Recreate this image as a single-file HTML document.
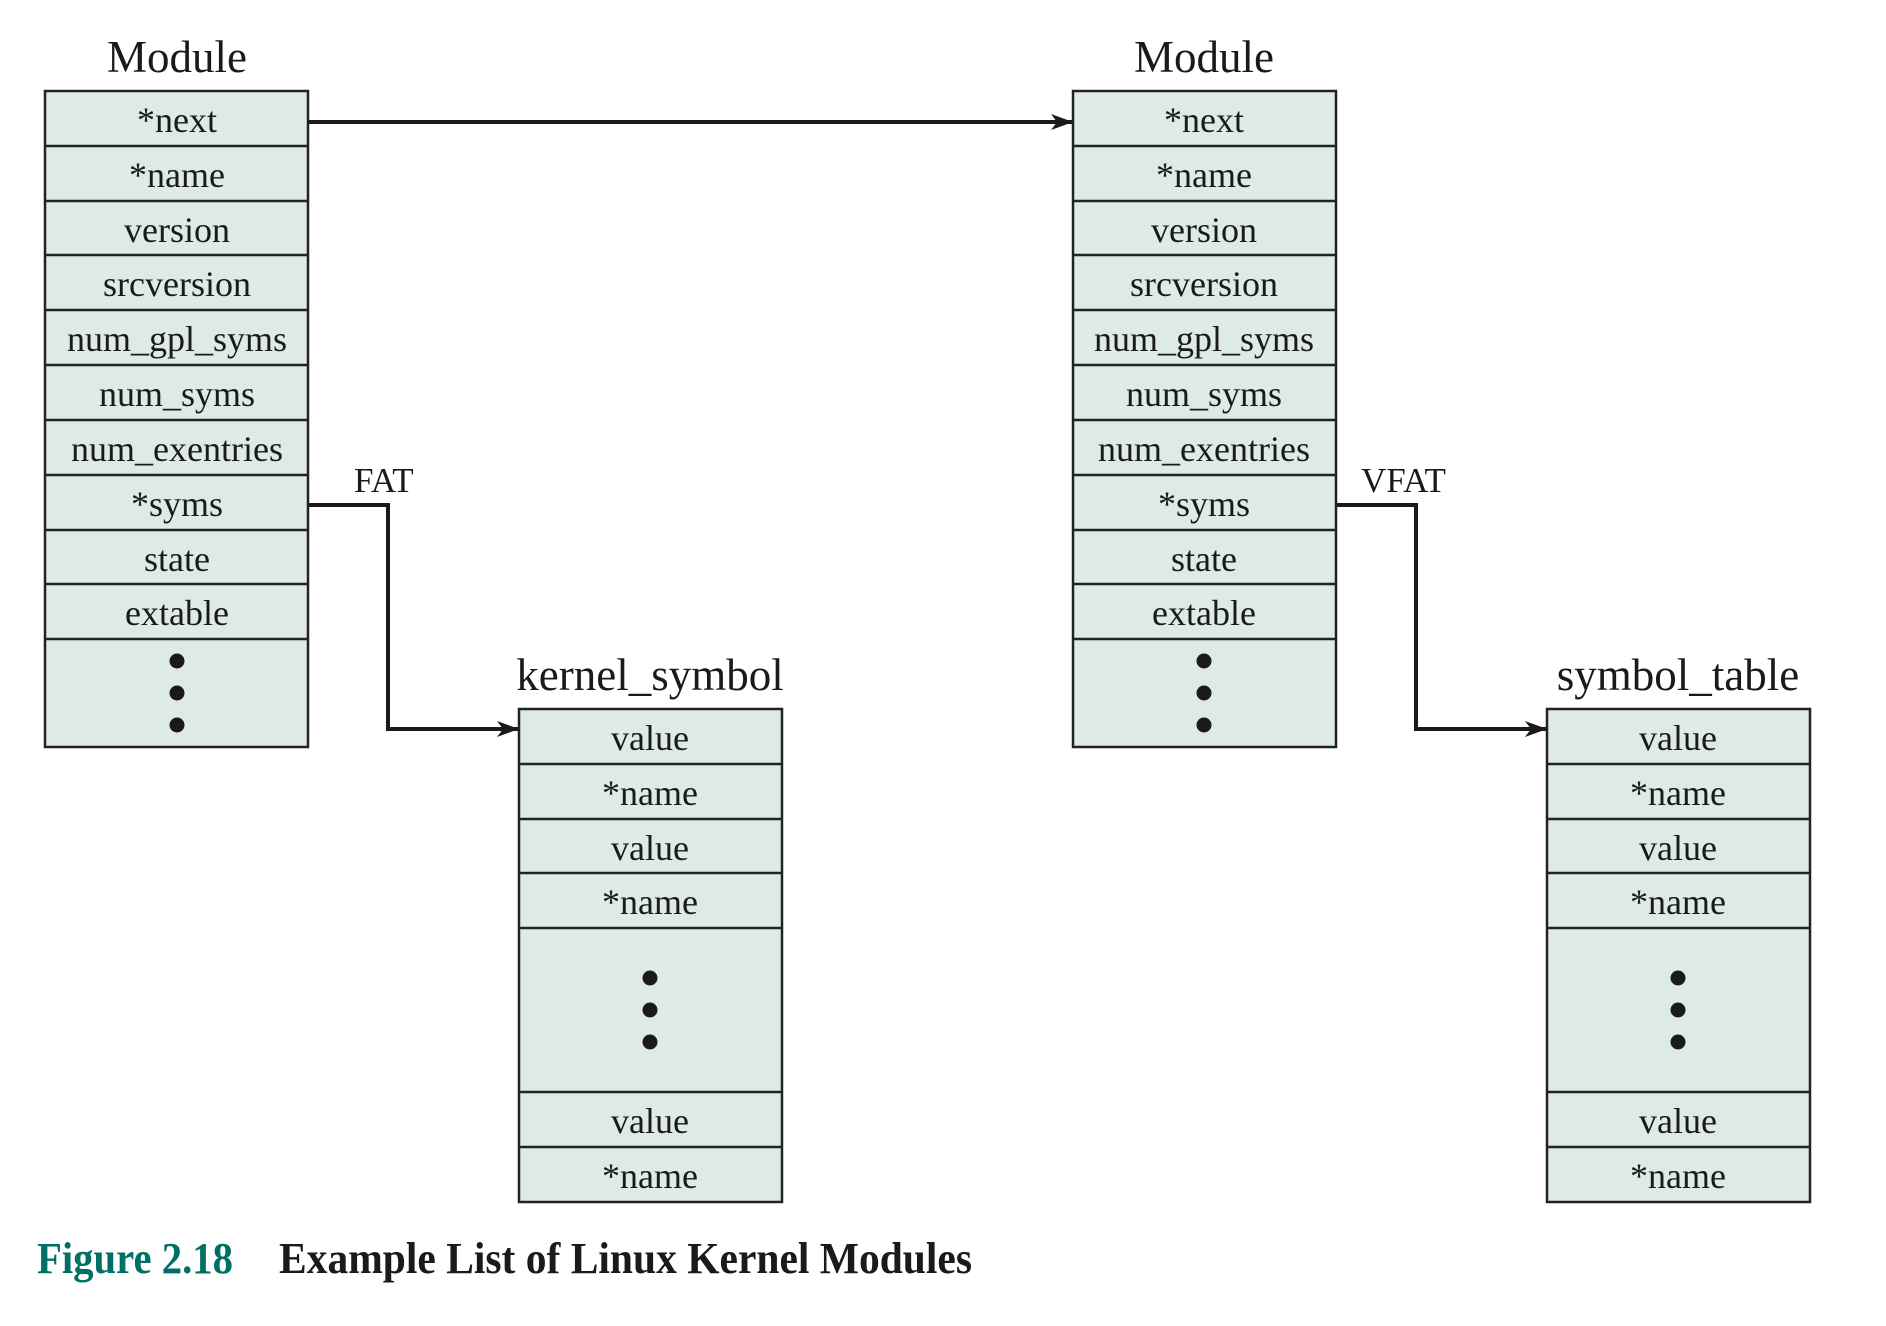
<!DOCTYPE html>
<html><head><meta charset="utf-8"><style>
html,body{margin:0;padding:0;background:#fff;}
svg{display:block;}
text{font-family:"Liberation Serif",serif;fill:#1a1a1a;}
</style></head><body>
<svg width="1886" height="1326" viewBox="0 0 1886 1326" xmlns="http://www.w3.org/2000/svg">
<defs>
<marker id="ah" markerWidth="22" markerHeight="16" refX="21" refY="8" orient="auto" markerUnits="userSpaceOnUse">
<path d="M0,0 L22,8 L0,16 L6,8 Z" fill="#1a1a1a"/>
</marker>
</defs>
<g stroke="#222" stroke-width="2.5" fill="#deeae7">
<rect x="45" y="91" width="263" height="656"/>
<line x1="45" y1="146" x2="308" y2="146"/><line x1="45" y1="201" x2="308" y2="201"/>
<line x1="45" y1="255" x2="308" y2="255"/><line x1="45" y1="310" x2="308" y2="310"/>
<line x1="45" y1="365" x2="308" y2="365"/><line x1="45" y1="420" x2="308" y2="420"/>
<line x1="45" y1="475" x2="308" y2="475"/><line x1="45" y1="530" x2="308" y2="530"/>
<line x1="45" y1="584" x2="308" y2="584"/><line x1="45" y1="639" x2="308" y2="639"/>
<rect x="1073" y="91" width="263" height="656"/>
<line x1="1073" y1="146" x2="1336" y2="146"/><line x1="1073" y1="201" x2="1336" y2="201"/>
<line x1="1073" y1="255" x2="1336" y2="255"/><line x1="1073" y1="310" x2="1336" y2="310"/>
<line x1="1073" y1="365" x2="1336" y2="365"/><line x1="1073" y1="420" x2="1336" y2="420"/>
<line x1="1073" y1="475" x2="1336" y2="475"/><line x1="1073" y1="530" x2="1336" y2="530"/>
<line x1="1073" y1="584" x2="1336" y2="584"/><line x1="1073" y1="639" x2="1336" y2="639"/>
<rect x="519" y="709" width="263" height="493"/>
<line x1="519" y1="764" x2="782" y2="764"/><line x1="519" y1="819" x2="782" y2="819"/>
<line x1="519" y1="873" x2="782" y2="873"/><line x1="519" y1="928" x2="782" y2="928"/>
<line x1="519" y1="1092" x2="782" y2="1092"/><line x1="519" y1="1147" x2="782" y2="1147"/>
<rect x="1547" y="709" width="263" height="493"/>
<line x1="1547" y1="764" x2="1810" y2="764"/><line x1="1547" y1="819" x2="1810" y2="819"/>
<line x1="1547" y1="873" x2="1810" y2="873"/><line x1="1547" y1="928" x2="1810" y2="928"/>
<line x1="1547" y1="1092" x2="1810" y2="1092"/><line x1="1547" y1="1147" x2="1810" y2="1147"/>
</g>
<g fill="#1a1a1a">
<circle cx="177" cy="661" r="7.5"/><circle cx="177" cy="693" r="7.5"/><circle cx="177" cy="725" r="7.5"/>
<circle cx="1204" cy="661" r="7.5"/><circle cx="1204" cy="693" r="7.5"/><circle cx="1204" cy="725" r="7.5"/>
<circle cx="650" cy="978" r="7.5"/><circle cx="650" cy="1010" r="7.5"/><circle cx="650" cy="1042" r="7.5"/>
<circle cx="1678" cy="978" r="7.5"/><circle cx="1678" cy="1010" r="7.5"/><circle cx="1678" cy="1042" r="7.5"/>
</g>
<g stroke="#1a1a1a" stroke-width="4" fill="none">
<line x1="309" y1="122" x2="1072" y2="122" marker-end="url(#ah)"/>
<polyline points="309,505 388,505 388,729 518,729" marker-end="url(#ah)"/>
<polyline points="1337,505 1416,505 1416,729 1546,729" marker-end="url(#ah)"/>
</g>
<g font-size="45" text-anchor="middle">
<text x="177" y="72">Module</text>
<text x="1204" y="72">Module</text>
<text x="650" y="690">kernel_symbol</text>
<text x="1678" y="690">symbol_table</text>
</g>
<g font-size="36" text-anchor="middle">
<text x="177" y="132">*next</text><text x="177" y="187">*name</text><text x="177" y="242">version</text>
<text x="177" y="296">srcversion</text><text x="177" y="351">num_gpl_syms</text><text x="177" y="406">num_syms</text>
<text x="177" y="461">num_exentries</text><text x="177" y="516">*syms</text><text x="177" y="571">state</text>
<text x="177" y="625">extable</text>
<text x="1204" y="132">*next</text><text x="1204" y="187">*name</text><text x="1204" y="242">version</text>
<text x="1204" y="296">srcversion</text><text x="1204" y="351">num_gpl_syms</text><text x="1204" y="406">num_syms</text>
<text x="1204" y="461">num_exentries</text><text x="1204" y="516">*syms</text><text x="1204" y="571">state</text>
<text x="1204" y="625">extable</text>
<text x="650" y="750">value</text><text x="650" y="805">*name</text><text x="650" y="860">value</text><text x="650" y="914">*name</text>
<text x="650" y="1133">value</text><text x="650" y="1188">*name</text>
<text x="1678" y="750">value</text><text x="1678" y="805">*name</text><text x="1678" y="860">value</text><text x="1678" y="914">*name</text>
<text x="1678" y="1133">value</text><text x="1678" y="1188">*name</text>
</g>
<g font-size="35">
<text x="354" y="492">FAT</text>
<text x="1361" y="492">VFAT</text>
</g>
<g font-size="44" font-weight="bold">
<text x="37" y="1273" style="fill:#006f66" textLength="196" lengthAdjust="spacingAndGlyphs">Figure 2.18</text>
<text x="279" y="1273" textLength="693" lengthAdjust="spacingAndGlyphs">Example List of Linux Kernel Modules</text>
</g>
</svg>
</body></html>
